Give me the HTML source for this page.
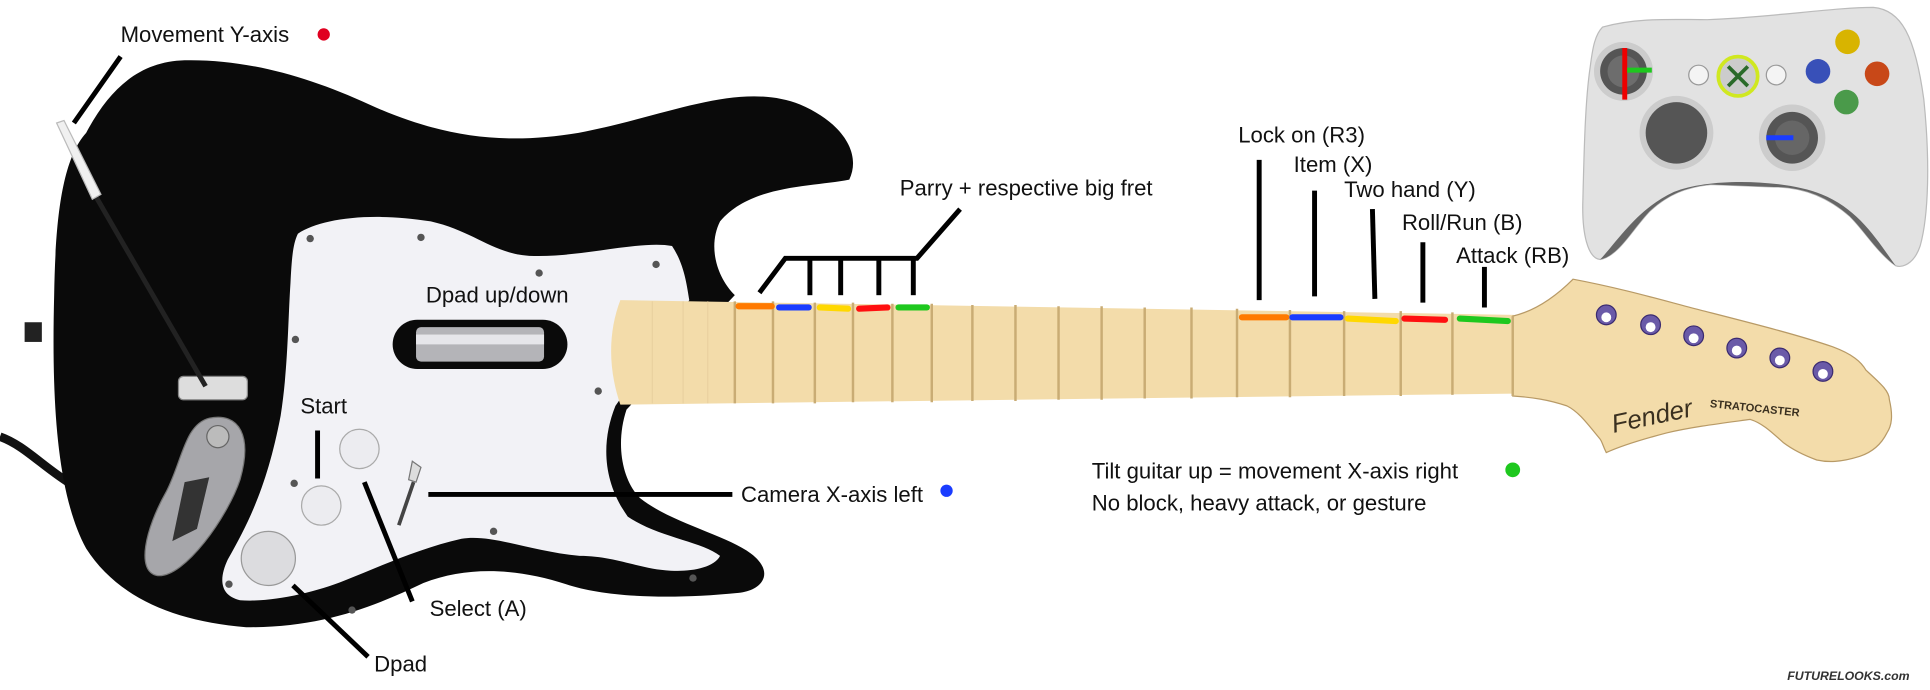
<!DOCTYPE html>
<html><head><meta charset="utf-8"><style>
html,body{margin:0;padding:0;background:#fff;}
svg{display:block}
text{font-family:"Liberation Sans","DejaVu Sans",sans-serif;fill:#111;}
</style></head><body>
<svg width="1930" height="690" viewBox="0 0 1568 561" preserveAspectRatio="none" xmlns="http://www.w3.org/2000/svg">
<rect width="1568" height="561" fill="#fff"/>
<!-- cable / jack -->
<path d="M0,355 C20,362 35,380 60,395" stroke="#111" stroke-width="7" fill="none"/>
<rect x="20" y="262" width="14" height="16" fill="#222"/>
<!-- body -->
<path d="M70,108 C90,70 115,50 150,49 C200,48 250,62 300,85 C360,112 410,118 470,108 C540,95 600,65 650,85 C685,100 700,125 690,146 C660,152 610,150 585,180 C575,200 582,225 597,240 L509,333 C500,360 505,390 520,405 C545,425 590,435 610,450 C630,465 620,480 600,482 C540,488 490,485 460,475 C420,462 380,460 344,474 C300,495 260,510 200,510 C140,505 95,485 70,446 C45,400 42,320 44,240 C45,180 50,130 70,108 Z" fill="#0a0a0a"/>
<!-- pickguard -->
<path d="M242,190 C260,178 300,172 350,180 C385,188 400,206 430,208 C470,210 520,195 546,200 C556,215 558,232 560,244 L500,330 C488,360 490,392 510,420 C535,437 570,440 585,452 C580,462 560,465 545,464 C520,463 500,452 471,452 C430,448 400,434 375,438 C340,446 310,460 280,472 C255,482 220,490 195,488 C178,484 178,470 185,455 C205,420 218,390 228,338 C234,300 234,260 236,230 C237,210 238,198 242,190 Z" fill="#f2f2f6"/>
<!-- screws -->
<g fill="#555"><circle cx="252" cy="194" r="3"/><circle cx="342" cy="193" r="3"/><circle cx="438" cy="222" r="3"/><circle cx="533" cy="215" r="3"/><circle cx="240" cy="276" r="3"/><circle cx="486" cy="318" r="3"/><circle cx="239" cy="393" r="3"/><circle cx="401" cy="432" r="3"/><circle cx="286" cy="496" r="3"/><circle cx="186" cy="475" r="3"/><circle cx="563" cy="470" r="3"/></g>
<!-- strum bar -->
<rect x="319" y="260" width="142" height="40" rx="20" fill="#0a0a0a"/>
<rect x="338" y="266" width="104" height="28" rx="4" fill="#b4b4b8"/>
<rect x="338" y="272" width="104" height="8" fill="#e6e6ea"/>
<!-- buttons -->
<circle cx="292" cy="365" r="16" fill="#ececf0" stroke="#aaa"/>
<circle cx="261" cy="411" r="16" fill="#ececf0" stroke="#aaa"/>
<circle cx="218" cy="454" r="22" fill="#dcdcdf" stroke="#999"/>
<path d="M335,375 L342,380 L338,392 L332,390 Z" fill="#ddd" stroke="#777"/>
<path d="M336,392 L324,427" stroke="#444" stroke-width="3"/>
<!-- whammy holder / plate -->
<path d="M170,340 C195,335 205,355 195,390 C185,420 150,470 128,468 C110,465 118,430 135,400 C148,375 150,345 170,340 Z" fill="#a6a6aa" stroke="#777"/>
<circle cx="177" cy="355" r="9" fill="#bbb" stroke="#666"/>
<path d="M150,392 L170,388 L160,430 L140,440 Z" fill="#333"/>
<rect x="145" y="306" width="56" height="19" rx="4" fill="#ddd" stroke="#888"/>
<path d="M78,160 L167,314" stroke="#222" stroke-width="4"/>
<path d="M46,100 L52,98 L82,158 L75,162 Z" fill="#f0f0f0" stroke="#bbb"/>
<!-- neck -->
<path d="M504,244 L1230,256 L1230,320 L504,329 C494,300 494,270 504,244 Z" fill="#f3dcaa"/>
<!-- headstock -->
<path d="M1229,257 C1242,254 1259,246 1278,227 C1320,235 1350,244 1381,252 C1420,262 1460,272 1489,282 C1505,288 1512,294 1516,301 C1528,312 1535,318 1535,325 C1538,338 1537,346 1533,352 C1528,362 1520,368 1511,371 C1495,376 1485,376 1476,374 C1465,370 1457,366 1449,360 C1440,352 1432,344 1422,341 C1400,344 1375,347 1354,352 C1335,357 1318,362 1305,368 C1302,362 1302,360 1300,357 C1290,345 1283,335 1273,330 C1258,325 1245,323 1229,322 Z" fill="#f3dcaa" stroke="#b89a66" stroke-width="1"/>
<line x1="1229" y1="257" x2="1229" y2="322" stroke="#c9ac74" stroke-width="2"/>
<g fill="#6a5aa8" stroke="#3a2a70"><circle cx="1305" cy="256" r="8"/><circle cx="1341" cy="264" r="8"/><circle cx="1376" cy="273" r="8"/><circle cx="1411" cy="283" r="8"/><circle cx="1446" cy="291" r="8"/><circle cx="1481" cy="302" r="8"/></g>
<g fill="#fff"><circle cx="1305" cy="258" r="4"/><circle cx="1341" cy="266" r="4"/><circle cx="1376" cy="275" r="4"/><circle cx="1411" cy="285" r="4"/><circle cx="1446" cy="293" r="4"/><circle cx="1481" cy="304" r="4"/></g>
<text x="1311" y="352" font-size="21" font-style="italic" font-family="Liberation Serif" style="fill:#3a3020" transform="rotate(-12 1311 352)">Fender</text>
<text x="1389" y="331" font-size="9" font-weight="bold" style="fill:#3a3020" transform="rotate(6 1389 331)">STRATOCASTER</text>
<!-- frets -->
<g stroke="#c9ac74" stroke-width="2">
<line x1="597" y1="245" x2="597" y2="328"/><line x1="628" y1="245" x2="628" y2="328"/><line x1="662" y1="246" x2="662" y2="328"/><line x1="693" y1="246" x2="693" y2="327"/><line x1="725" y1="247" x2="725" y2="327"/><line x1="757" y1="247" x2="757" y2="327"/><line x1="790" y1="248" x2="790" y2="326"/><line x1="825" y1="248" x2="825" y2="326"/><line x1="860" y1="249" x2="860" y2="325"/><line x1="895" y1="249" x2="895" y2="325"/><line x1="930" y1="250" x2="930" y2="324"/><line x1="968" y1="250" x2="968" y2="324"/><line x1="1005" y1="251" x2="1005" y2="323"/><line x1="1048" y1="252" x2="1048" y2="323"/><line x1="1092" y1="253" x2="1092" y2="322"/><line x1="1138" y1="253" x2="1138" y2="322"/><line x1="1180" y1="254" x2="1180" y2="321"/>
</g>
<g stroke="#ead1a0" stroke-width="1"><line x1="530" y1="245" x2="530" y2="328"/><line x1="555" y1="245" x2="555" y2="328"/><line x1="575" y1="245" x2="575" y2="328"/></g>
<!-- colored marks -->
<g stroke-width="5" stroke-linecap="round">
<line x1="600" y1="249" x2="627" y2="249" stroke="#ff7a00"/><line x1="633" y1="250" x2="657" y2="250" stroke="#1a3cff"/><line x1="666" y1="250" x2="689" y2="251" stroke="#ffd800"/><line x1="698" y1="251" x2="721" y2="250" stroke="#ff1010"/><line x1="730" y1="250" x2="753" y2="250" stroke="#1ec81e"/>
<line x1="1009" y1="258" x2="1045" y2="258" stroke="#ff7a00"/><line x1="1050" y1="258" x2="1089" y2="258" stroke="#1a3cff"/><line x1="1095" y1="259" x2="1134" y2="261" stroke="#ffd800"/><line x1="1141" y1="259" x2="1174" y2="260" stroke="#ff1010"/><line x1="1186" y1="259" x2="1225" y2="261" stroke="#1ec81e"/>
</g>
<!-- leader lines -->
<g stroke="#000" stroke-width="4" fill="none">
<line x1="98" y1="46" x2="60" y2="100"/>
<path d="M617,238 L638,210 L745,210 L780,170"/>
<line x1="658" y1="210" x2="658" y2="240"/><line x1="683" y1="210" x2="683" y2="240"/><line x1="714" y1="210" x2="714" y2="240"/><line x1="742" y1="210" x2="742" y2="240"/>
<line x1="1023" y1="130" x2="1023" y2="244"/><line x1="1068" y1="155" x2="1068" y2="241"/><line x1="1115" y1="170" x2="1117" y2="243"/><line x1="1156" y1="197" x2="1156" y2="246"/><line x1="1206" y1="217" x2="1206" y2="250"/>
<line x1="258" y1="350" x2="258" y2="389"/><line x1="296" y1="392" x2="335" y2="489"/><line x1="238" y1="476" x2="299" y2="534"/><line x1="348" y1="402" x2="595" y2="402"/>
</g>
<!-- labels -->
<g font-size="18">
<text x="98" y="34">Movement Y-axis</text><circle cx="263" cy="28" r="5" fill="#e00020"/>
<text x="731" y="159">Parry + respective big fret</text>
<text x="346" y="246">Dpad up/down</text>
<text x="244" y="336">Start</text>
<text x="602" y="408">Camera X-axis left</text><circle cx="769" cy="399" r="5" fill="#1a3cff"/>
<text x="349" y="501">Select (A)</text>
<text x="304" y="546">Dpad</text>
<text x="1006" y="116">Lock on (R3)</text>
<text x="1051" y="140">Item (X)</text>
<text x="1092" y="160">Two hand (Y)</text>
<text x="1139" y="187">Roll/Run (B)</text>
<text x="1183" y="214">Attack (RB)</text>
<text x="887" y="389">Tilt guitar up = movement X-axis right</text><circle cx="1229" cy="382" r="6" fill="#1ec81e"/>
<text x="887" y="415">No block, heavy attack, or gesture</text>
</g>
<text x="1452" y="553" font-size="10" font-weight="bold" font-style="italic" style="fill:#333">FUTURELOOKS.com</text>
<!-- controller -->
<path d="M1302,22 C1330,14 1360,16 1387,16 C1440,14 1490,6 1522,6 C1545,8 1556,30 1563,81 C1568,130 1567,175 1560,200 C1555,215 1545,218 1540,216 C1525,205 1515,188 1503,176 C1485,160 1465,152 1441,152 L1390,150 C1370,152 1355,158 1340,172 C1325,188 1315,208 1300,211 C1290,210 1285,190 1286,162 C1287,120 1288,80 1292,54 C1294,38 1296,28 1302,22 Z" fill="#e2e2e2" stroke="#bbb"/>
<path d="M1300,211 C1315,208 1325,188 1340,172 C1355,158 1370,152 1390,150 L1441,152 C1465,152 1485,160 1503,176 C1515,188 1525,205 1540,216 C1525,195 1510,170 1480,158 C1450,146 1390,144 1360,156 C1330,170 1315,195 1300,211 Z" fill="#666"/>
<circle cx="1319" cy="58" r="24" fill="#ccc"/><circle cx="1319" cy="58" r="19" fill="#555"/><circle cx="1319" cy="58" r="13" fill="#6d6d6d"/>
<line x1="1320" y1="39" x2="1320" y2="81" stroke="#e00" stroke-width="4"/><line x1="1322" y1="57" x2="1342" y2="57" stroke="#1ec81e" stroke-width="4"/>
<circle cx="1362" cy="108" r="30" fill="#ccc"/><circle cx="1362" cy="108" r="25" fill="#555"/>
<circle cx="1456" cy="112" r="27" fill="#ccc"/><circle cx="1456" cy="112" r="21" fill="#555"/><circle cx="1456" cy="112" r="14" fill="#666"/>
<line x1="1435" y1="112" x2="1457" y2="112" stroke="#1a3cff" stroke-width="4"/>
<circle cx="1412" cy="62" r="16" fill="#ccc" stroke="#d0e820" stroke-width="3"/>
<path d="M1404,54 L1420,70 M1420,54 L1404,70" stroke="#2a6a2a" stroke-width="3"/>
<circle cx="1380" cy="61" r="8" fill="#f4f4f4" stroke="#999"/><circle cx="1443" cy="61" r="8" fill="#f4f4f4" stroke="#999"/>
<circle cx="1501" cy="34" r="10" fill="#d8b400"/><circle cx="1477" cy="58" r="10" fill="#3850b8"/><circle cx="1525" cy="60" r="10" fill="#c84818"/><circle cx="1500" cy="83" r="10" fill="#4a9a4a"/>
</svg>
</body></html>
